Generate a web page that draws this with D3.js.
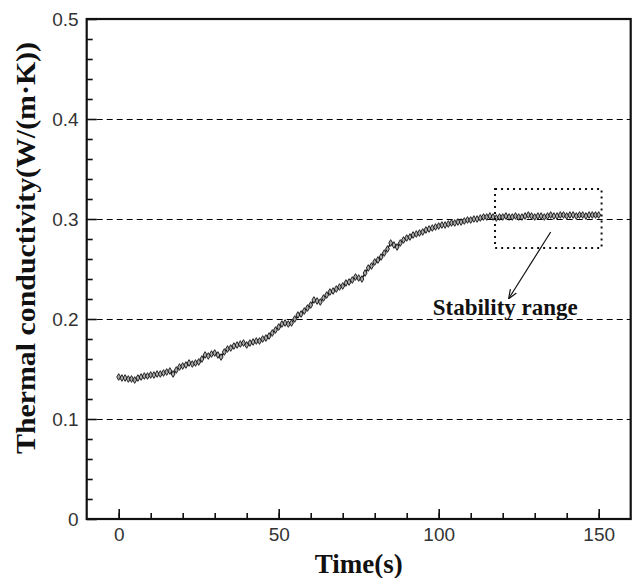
<!DOCTYPE html>
<html>
<head>
<meta charset="utf-8">
<script src="https://cdnjs.cloudflare.com/ajax/libs/d3/7.8.5/d3.min.js"></script>
<style>
body { margin: 0; background: #fff; }
.aText { font-family: "Liberation Serif", "Times New Roman", serif; font-weight: bold; fill: #111; }
</style>
</head>
<body>
<div id="chart"></div>
<script>
// data
var times = d3.range(0, 151);
var conductivity = [
    0.142, 0.141, 0.141, 0.140, 0.140, 0.139, 0.141, 0.142, 0.143, 0.143,
    0.144, 0.144, 0.145, 0.145, 0.146, 0.147, 0.148, 0.145, 0.149, 0.152,
    0.153, 0.154, 0.156, 0.155, 0.156, 0.157, 0.160, 0.164, 0.163, 0.165,
    0.166, 0.164, 0.162, 0.167, 0.170, 0.171, 0.173, 0.174, 0.175, 0.176,
    0.174, 0.176, 0.177, 0.178, 0.178, 0.180, 0.181, 0.183, 0.186, 0.189,
    0.192, 0.195, 0.196, 0.195, 0.196, 0.200, 0.204, 0.205, 0.208, 0.211,
    0.214, 0.219, 0.218, 0.217, 0.221, 0.224, 0.227, 0.228, 0.230, 0.232,
    0.233, 0.236, 0.237, 0.239, 0.242, 0.241, 0.240, 0.246, 0.251, 0.253,
    0.257, 0.259, 0.262, 0.266, 0.270, 0.276, 0.274, 0.272, 0.276, 0.279,
    0.281, 0.282, 0.284, 0.285, 0.286, 0.287, 0.289, 0.290, 0.291, 0.292,
    0.293, 0.294, 0.294, 0.295, 0.296, 0.296, 0.297, 0.297, 0.298, 0.299,
    0.299, 0.300, 0.300, 0.301, 0.302, 0.302, 0.303, 0.302, 0.301, 0.302,
    0.302, 0.303, 0.302, 0.302, 0.303, 0.302, 0.302, 0.303, 0.304, 0.303,
    0.302, 0.303, 0.303, 0.302, 0.303, 0.304, 0.303, 0.303, 0.304, 0.304,
    0.303, 0.304, 0.304, 0.303, 0.304, 0.304, 0.303, 0.304, 0.304, 0.304,
    0.304
];

var xTicks = [0, 50, 100, 150];
var xMinorTicks = [0, 10, 20, 30, 40, 50, 60, 70, 80, 90, 100, 110, 120, 130, 140, 150];
var yTicks = [0, 0.1, 0.2, 0.3, 0.4, 0.5];
var yMinorTicks = [0.02, 0.04, 0.06, 0.08, 0.12, 0.14, 0.16, 0.18, 0.22, 0.24, 0.26, 0.28,
    0.32, 0.34, 0.36, 0.38, 0.42, 0.44, 0.46, 0.48];
var gridValues = [0.1, 0.2, 0.3, 0.4];

// annotation (box, arrow, label) in data units
var boxTimes = [117.6, 150.9];
var boxValues = [0.271, 0.330];
var arrowTimes = [135, 122];
var arrowValues = [0.287, 0.221];
var labelTime = 120.8;
var labelValue = 0.204;

// Define SVG area
var svgWidth = 633;
var svgHeight = 578;

var margin = {top: 19, right: 2.3, bottom: 59, left: 86.7};
var chartWidth = svgWidth - margin.left - margin.right;
var chartHeight = svgHeight - margin.top - margin.bottom;

var svg = d3.select('#chart')
    .append('svg')
    .attr('width', svgWidth)
    .attr('height', svgHeight);

var chartGroup = svg.append('g')
    .attr('transform', `translate(${margin.left},${margin.top})`);

var xScale = d3.scaleLinear()
    .domain([-10, 160])
    .range([0, chartWidth]);

var yScale = d3.scaleLinear()
    .domain([0, 0.5])
    .range([chartHeight, 0]);

// dashed grid lines
chartGroup.selectAll('.grid')
    .data(gridValues)
    .enter()
    .append('line')
    .attr('class', 'grid')
    .attr('x1', 0)
    .attr('x2', chartWidth)
    .attr('y1', d => Math.round(yScale(d) + margin.top) - margin.top + 0.5)
    .attr('y2', d => Math.round(yScale(d) + margin.top) - margin.top + 0.5)
    .attr('stroke', '#000')
    .attr('stroke-width', 1.2)
    .attr('stroke-dasharray', '6,4');

// axes, ticks pointing inwards
var xAxis = d3.axisBottom(xScale)
    .tickValues(xTicks)
    .tickSize(-10)
    .tickPadding(9)
    .tickFormat(d3.format('d'));

var xMinor = d3.axisBottom(xScale)
    .tickValues(xMinorTicks)
    .tickSize(-6)
    .tickFormat('');

var yAxis = d3.axisLeft(yScale)
    .tickValues(yTicks)
    .tickSize(-10)
    .tickPadding(8)
    .tickFormat(d => d === 0 ? '0' : d3.format('.1f')(d));

var yMinor = d3.axisLeft(yScale)
    .tickValues(yMinorTicks)
    .tickSize(-6)
    .tickFormat('');

[xAxis, xMinor].forEach(function(ax) {
    chartGroup.append('g')
        .attr('transform', `translate(0,${chartHeight})`)
        .call(ax);
});

[yAxis, yMinor].forEach(function(ax) {
    chartGroup.append('g')
        .call(ax);
});

chartGroup.selectAll('.domain').remove();
chartGroup.selectAll('.tick line')
    .attr('stroke', '#111')
    .attr('stroke-width', 1.6);
chartGroup.selectAll('.tick text')
    .attr('fill', '#333')
    .style('font-family', '"Liberation Sans", Arial, sans-serif')
    .style('font-size', '19px');

// frame
chartGroup.append('rect')
    .attr('width', chartWidth)
    .attr('height', chartHeight)
    .attr('fill', 'none')
    .attr('stroke', '#111')
    .attr('stroke-width', 2.2);

// data curve
var line = d3.line()
    .x((d, i) => xScale(times[i]))
    .y(d => yScale(d));

chartGroup.append('path')
    .datum(conductivity)
    .attr('d', line)
    .attr('fill', 'none')
    .attr('stroke', '#111')
    .attr('stroke-width', 1.4);

var diamond = d3.symbol().type(d3.symbolDiamond).size(13);

chartGroup.selectAll('.point')
    .data(conductivity)
    .enter()
    .append('path')
    .attr('class', 'point')
    .attr('d', diamond)
    .attr('transform', (d, i) => `translate(${xScale(times[i])},${yScale(d)})`)
    .attr('fill', '#aaa')
    .attr('stroke', '#111')
    .attr('stroke-width', 0.9);

// stability range box
chartGroup.append('rect')
    .attr('x', xScale(boxTimes[0]))
    .attr('y', yScale(boxValues[1]))
    .attr('width', xScale(boxTimes[1]) - xScale(boxTimes[0]))
    .attr('height', yScale(boxValues[0]) - yScale(boxValues[1]))
    .attr('fill', 'none')
    .attr('stroke', '#111')
    .attr('stroke-width', 2)
    .attr('stroke-dasharray', '2,4');

// arrow
svg.append('defs').append('marker')
    .attr('id', 'arrow')
    .attr('viewBox', '0 0 10 10')
    .attr('refX', 9)
    .attr('refY', 5)
    .attr('markerWidth', 9)
    .attr('markerHeight', 9)
    .attr('markerUnits', 'userSpaceOnUse')
    .attr('orient', 'auto')
    .append('path')
    .attr('d', 'M0,1 L10,5 L0,9')
    .attr('fill', 'none')
    .attr('stroke', '#111')
    .attr('stroke-width', 1.3);

chartGroup.append('line')
    .attr('x1', xScale(arrowTimes[0]))
    .attr('y1', yScale(arrowValues[0]))
    .attr('x2', xScale(arrowTimes[1]))
    .attr('y2', yScale(arrowValues[1]))
    .attr('stroke', '#111')
    .attr('stroke-width', 1.2)
    .attr('marker-end', 'url(#arrow)');

chartGroup.append('text')
    .classed('aText', true)
    .attr('x', xScale(labelTime))
    .attr('y', yScale(labelValue))
    .attr('text-anchor', 'middle')
    .style('font-size', '23px')
    .text('Stability range');

// axis labels
svg.append('text')
    .classed('aText', true)
    .attr('x', margin.left + chartWidth / 2)
    .attr('y', 573)
    .attr('text-anchor', 'middle')
    .style('font-size', '27px')
    .text('Time(s)');

svg.append('text')
    .classed('aText', true)
    .attr('transform', 'translate(35,248) rotate(-90)')
    .attr('text-anchor', 'middle')
    .attr('textLength', 412)
    .attr('lengthAdjust', 'spacingAndGlyphs')
    .style('font-size', '27px')
    .text('Thermal conductivity(W/(m·K))');
</script>
</body>
</html>
